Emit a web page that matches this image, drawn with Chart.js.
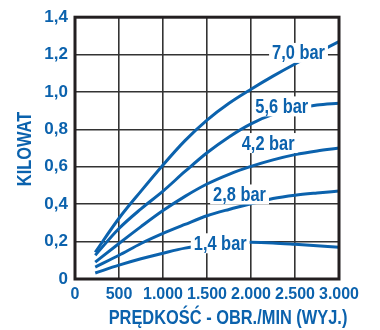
<!DOCTYPE html>
<html>
<head>
<meta charset="utf-8">
<script src="https://cdn.jsdelivr.net/npm/chart.js@4"></script>
<style>
  html, body { margin: 0; padding: 0; background: #fff; }
  #wrap { width: 380px; height: 330px; }
</style>
</head>
<body>
<div id="wrap"><canvas id="chart"></canvas></div>
<script>
(() => {
  'use strict';

  // rpm (output shaft) where the curves were read
  const RPM = [230, 500, 750, 1000, 1250, 1500, 1750, 2000, 2250, 2500, 2750, 3000];

  // kilowatt per pressure curve
  const KW_1_4 = [0.032, 0.074, 0.108, 0.138, 0.165, 0.180, 0.190, 0.196, 0.193, 0.186, 0.178, 0.170];
  const KW_2_8 = [0.064, 0.127, 0.190, 0.244, 0.292, 0.338, 0.372, 0.402, 0.430, 0.448, 0.460, 0.470];
  const KW_4_2 = [0.090, 0.190, 0.280, 0.366, 0.442, 0.508, 0.560, 0.602, 0.637, 0.665, 0.685, 0.700];
  const KW_5_6 = [0.127, 0.270, 0.375, 0.470, 0.575, 0.675, 0.760, 0.830, 0.880, 0.910, 0.930, 0.940];
  const KW_7_0 = [0.143, 0.325, 0.470, 0.610, 0.740, 0.850, 0.940, 1.015, 1.085, 1.150, 1.210, 1.270];

  // curve names and where their name sits (rpm, kW)
  const CURVE_NAMES = ['1,4 bar', '2,8 bar', '4,2 bar', '5,6 bar', '7,0 bar'];
  const NAME_RPM = [1650, 1870, 2195, 2350, 2540];
  const NAME_KW = [0.191, 0.452, 0.727, 0.923, 1.209];

  // tick labels
  const X_TICKS = ['0', '500', '1.000', '1.500', '2.000', '2.500', '3.000'];
  const Y_TICKS = ['0', '0,2', '0,4', '0,6', '0,8', '1,0', '1,2', '1,4'];

  const BLUE = '#0b62ad';
  const GRID = '#333333';
  const FONT = '"Liberation Sans", Arial, sans-serif';

  const series = [KW_1_4, KW_2_8, KW_4_2, KW_5_6, KW_7_0];

  // draw text squeezed sideways, like a narrow face
  const narrowText = (ctx, text, x, y, rot) => {
    ctx.save();
    ctx.translate(x, y);
    if (rot) ctx.rotate(rot);
    ctx.scale(0.82, 1);
    ctx.fillText(text, 0, 0);
    ctx.restore();
  };

  // curve names on white patches, frame and axis titles
  const decor = {
    id: 'decor',
    afterDatasetsDraw(chart) {
      const { ctx, chartArea: a, scales: { x, y } } = chart;
      ctx.save();
      ctx.font = 'bold 20px ' + FONT;
      ctx.textAlign = 'center';
      ctx.textBaseline = 'middle';
      CURVE_NAMES.forEach((name, i) => {
        const cx = x.getPixelForValue(NAME_RPM[i]),
              cy = y.getPixelForValue(NAME_KW[i]),
              w = ctx.measureText(name).width * 0.82 + 6;
        ctx.fillStyle = '#fff';
        ctx.fillRect(cx - w / 2, cy - 10, w, 20);
        ctx.fillStyle = BLUE;
        narrowText(ctx, name, cx, cy + 1);
      });

      // frame
      ctx.strokeStyle = '#231f20';
      ctx.lineWidth = 3;
      ctx.strokeRect(a.left, a.top, a.right - a.left, a.bottom - a.top);

      // axis titles
      ctx.font = 'bold 20px ' + FONT;
      ctx.fillStyle = BLUE;
      narrowText(ctx, 'PRĘDKOŚĆ - OBR./MIN (WYJ.)', 228, 318);
      narrowText(ctx, 'KILOWAT', 25, 149, -Math.PI / 2);
      ctx.restore();
    },
  };

  new Chart(document.getElementById('chart'), {
    type: 'line',
    data: {
      datasets: series.map((kw, i) => ({
        label: CURVE_NAMES[i],
        data: RPM.map((r, j) => ({ x: r, y: kw[j] })),
        borderColor: BLUE,
        borderWidth: 3,
        pointRadius: 0,
        fill: false,
        cubicInterpolationMode: 'monotone',
      })),
    },
    options: {
      responsive: true,
      maintainAspectRatio: false,
      animation: false,
      layout: { padding: { top: 15, right: 41, bottom: 0, left: 0 } },
      plugins: {
        legend: { display: false },
        tooltip: { enabled: false },
      },
      scales: {
        x: {
          type: 'linear',
          min: 0,
          max: 3000,
          afterFit: (s) => { s.height = 51; },
          ticks: {
            stepSize: 500,
            padding: 6,
            maxRotation: 0,
            minRotation: 0,
            autoSkip: false,
            color: BLUE,
            font: { family: FONT, size: 16, weight: 'bold' },
            callback: (v) => X_TICKS[Math.round(v / 500)],
          },
          grid: { color: GRID, lineWidth: 1.6, drawTicks: false },
          border: { display: false },
        },
        y: {
          min: 0,
          max: 1.4,
          afterFit: (s) => { s.width = 75; },
          ticks: {
            stepSize: 0.2,
            padding: 7,
            color: BLUE,
            font: { family: FONT, size: 17, weight: 'bold' },
            callback: (v) => Y_TICKS[Math.round(v / 0.2)],
          },
          grid: { color: GRID, lineWidth: 1.6, drawTicks: false },
          border: { display: false },
        },
      },
    },
    plugins: [decor],
  });
})();
</script>
</body>
</html>
